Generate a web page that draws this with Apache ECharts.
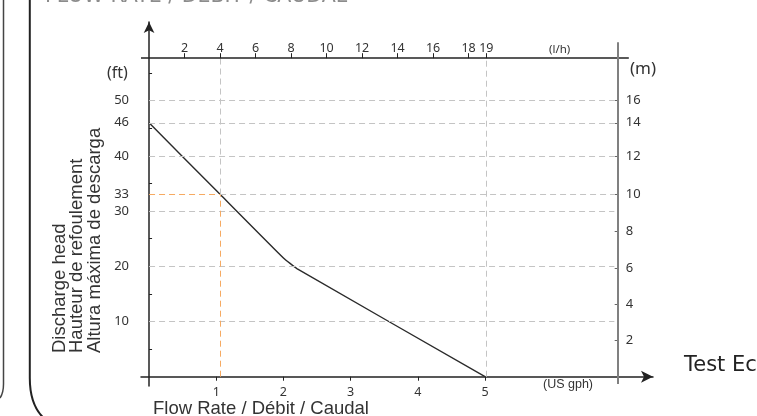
<!DOCTYPE html>
<html>
<head>
<meta charset="utf-8">
<script src="https://cdn.jsdelivr.net/npm/echarts@6/dist/echarts.min.js"></script>
<style>
html,body{margin:0;padding:0;background:#fff;}
#chart{width:757px;height:416px;}
</style>
</head>
<body>
<div id="chart"></div>
<script>
// ---- data ----
const flowGph = [0, 1.06, 2.0, 2.2, 5];           // US gph
const headFt  = [46, 33, 21.5, 19.6, 0];          // ft
const gphTicks = [1, 2, 3, 4, 5];
const lphTicks = [2, 4, 6, 8, 10, 12, 14, 16, 18, 19];
const ftTicks  = [5, 10, 15, 20, 25, 30, 35, 40, 45, 50, 55];
const ftLabels = [10, 20, 30, 33, 40, 46, 50];
const ftGrid   = [10, 20, 30, 40, 46, 50];
const mLabels  = ['2', '4', '6', '8', '10', '12', '14', '16'];
const mLabelAtFt = [6.6, 13.2, 19.7, 26.4, 33, 40, 46, 50];
const opLph = 4;      // duty point flow (l/h)
const opFt = 33;      // duty point head (ft)
const lphMark = 19;   // max flow mark (l/h)

const LPH_PER_GPH = 3.785;
const X_MIN = -0.12, X_MAX = 7.5;
const Y_MIN = -1.7, Y_MAX = 64.26;
const RIGHT_AXIS_GPH = 6.975;
const TOP_AXIS_FT = 57.7;
const TOP_AXIS_END_GPH = 7.14;

const opGph = opLph / LPH_PER_GPH;
const markGph = lphMark / LPH_PER_GPH;

const GRAY = '#c4c4c4', ORANGE = '#f6aa62';
const dashed = (c) => ({color: c, width: 1, type: [6, 4]});

const markLines = [];
ftGrid.forEach(v => markLines.push([{coord: [0, v], lineStyle: dashed(GRAY)}, {coord: [RIGHT_AXIS_GPH - 0.05, v]}]));
markLines.push([{coord: [0, opFt], lineStyle: dashed(ORANGE)}, {coord: [opGph, opFt]}]);
markLines.push([{coord: [opGph, opFt], lineStyle: dashed(GRAY)}, {coord: [RIGHT_AXIS_GPH - 0.05, opFt]}]);
markLines.push([{coord: [opGph, 0], lineStyle: dashed(ORANGE)}, {coord: [opGph, opFt]}]);
markLines.push([{coord: [opGph, opFt], lineStyle: dashed(GRAY)}, {coord: [opGph, TOP_AXIS_FT]}]);
markLines.push([{coord: [markGph, 0], lineStyle: dashed(GRAY)}, {coord: [markGph, TOP_AXIS_FT]}]);
// top axis line and right axis line
markLines.push([{coord: [X_MIN, TOP_AXIS_FT], lineStyle: {color: '#222', width: 1.5, type: 'solid'}}, {coord: [TOP_AXIS_END_GPH, TOP_AXIS_FT]}]);
markLines.push([{coord: [RIGHT_AXIS_GPH, -1.3], lineStyle: {color: '#808080', width: 2, type: 'solid'}}, {coord: [RIGHT_AXIS_GPH, 60.6]}]);

const curve = flowGph.map((x, i) => [x, headFt[i]]);

const tickFont = {fontFamily: 'Noto Sans', color: '#333'};

const chart = echarts.init(document.getElementById('chart'), null, {renderer: 'canvas'});
chart.setOption({
  animation: false,
  backgroundColor: '#fff',
  grid: {left: 141, right: 104, top: 22, bottom: 29.9, containLabel: false, outerBoundsMode: 'none'},
  xAxis: [{
    type: 'value', min: X_MIN, max: X_MAX, position: 'bottom',
    axisLine: {show: true, onZero: true, symbol: ['none', 'arrow'], symbolSize: [9, 12], lineStyle: {color: '#222', width: 1.5}},
    axisTick: {show: true, customValues: gphTicks, length: 4, lineStyle: {color: '#222'}},
    axisLabel: Object.assign({customValues: gphTicks, margin: 0, fontSize: 12.5}, tickFont),
    splitLine: {show: false}
  }, {
    type: 'value', min: X_MIN * LPH_PER_GPH, max: X_MAX * LPH_PER_GPH, position: 'top', offset: -36.2,
    axisLine: {show: false, onZero: false},
    axisTick: {show: true, customValues: lphTicks, length: 5, lineStyle: {color: '#222'}},
    axisLabel: Object.assign({customValues: lphTicks, margin: 3, fontSize: 12.5}, tickFont),
    splitLine: {show: false}
  }],
  yAxis: [{
    type: 'value', min: Y_MIN, max: Y_MAX, position: 'left',
    axisLine: {show: true, onZero: true, symbol: ['none', 'arrow'], symbolSize: [8, 11], lineStyle: {color: '#222', width: 1.5}},
    axisTick: {show: true, inside: true, customValues: ftTicks, length: 3, lineStyle: {color: '#222'}},
    axisLabel: Object.assign({customValues: ftLabels, margin: 12, fontSize: 13}, tickFont),
    splitLine: {show: false}
  }, {
    type: 'value', min: Y_MIN, max: Y_MAX, position: 'right', offset: -35.3,
    axisLine: {show: false, onZero: false},
    axisTick: {show: true, inside: true, customValues: mLabelAtFt, length: 3, lineStyle: {color: '#666'}},
    axisLabel: Object.assign({
      customValues: mLabelAtFt, margin: 8, fontSize: 13,
      formatter: (v) => {
        let best = 0;
        mLabelAtFt.forEach((f, i) => { if (Math.abs(f - v) < Math.abs(mLabelAtFt[best] - v)) best = i; });
        return mLabels[best];
      }
    }, tickFont),
    splitLine: {show: false}
  }],
  series: [{
    type: 'line', xAxisIndex: 0, yAxisIndex: 0, data: curve,
    symbol: 'none', smooth: 0.12, clip: false, silent: true,
    lineStyle: {color: '#2a2a2a', width: 1.4},
    markLine: {silent: true, symbol: ['none', 'none'], label: {show: false}, emphasis: {disabled: true}, data: markLines}
  }],
  graphic: [
    {type: 'line', shape: {x1: 3.5, y1: 0, x2: 3.5, y2: 384}, style: {stroke: '#444', lineWidth: 1.5}},
    {type: 'bezierCurve', shape: {x1: 3.5, y1: 384, cpx1: 3.5, cpy1: 393, x2: 0, y2: 398}, style: {fill: 'none', stroke: '#444', lineWidth: 1.5}},
    {type: 'line', shape: {x1: 29.8, y1: 0, x2: 29.8, y2: 378}, style: {stroke: '#222', lineWidth: 2}},
    {type: 'bezierCurve', shape: {x1: 29.8, y1: 378, cpx1: 29.8, cpy1: 407, x2: 46, y2: 420}, style: {fill: 'none', stroke: '#222', lineWidth: 2}},
    {type: 'text', x: 45, y: 7, style: {text: 'FLOW RATE / DÉBIT / CAUDAL', font: '20.5px "DejaVu Sans"', fill: '#8c8c8c', align: 'left', verticalAlign: 'bottom'}},
    {type: 'text', x: 107, y: 73, style: {text: '(ft)', font: '16px "Noto Sans"', fill: '#333', align: 'left', verticalAlign: 'middle'}},
    {type: 'text', x: 630, y: 69, style: {text: '(m)', font: '17px "Noto Sans"', fill: '#333', align: 'left', verticalAlign: 'middle'}},
    {type: 'text', x: 549, y: 50, style: {text: '(l/h)', font: '11.5px "Noto Sans"', fill: '#333', align: 'left', verticalAlign: 'middle'}},
    {type: 'text', x: 543, y: 385, style: {text: '(US gph)', font: '12.5px "Liberation Sans"', fill: '#333', align: 'left', verticalAlign: 'middle'}},
    {type: 'text', x: 153, y: 409, style: {text: 'Flow Rate / Débit / Caudal', font: '18.5px "Liberation Sans"', fill: '#333', align: 'left', verticalAlign: 'middle'}},
    {type: 'text', x: 51, y: 353, rotation: Math.PI / 2, style: {text: 'Discharge head\nHauteur de refoulement\nAltura máxima de descarga', font: '18.5px "Liberation Sans"', lineHeight: 17.5, fill: '#333', align: 'left', verticalAlign: 'top'}},
    {type: 'text', x: 684, y: 366, style: {text: 'Test Ec', font: '21px "DejaVu Sans"', fill: '#222', align: 'left', verticalAlign: 'middle'}}
  ]
});
</script>
</body>
</html>
